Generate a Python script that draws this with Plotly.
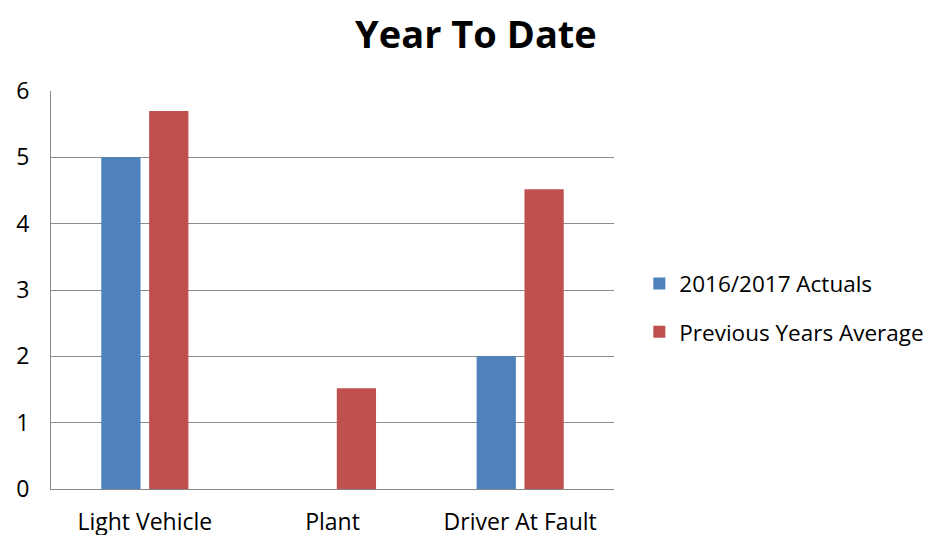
import plotly.graph_objects as go

categories = ["Light Vehicle", "Plant", "Driver At Fault"]
actuals = [5, 0, 2]
prev_avg = [5.7, 1.52, 4.52]
series_names = ["2016/2017 Actuals", "Previous Years Average"]
y_ticks = [0, 1, 2, 3, 4, 5, 6]

font_family = "Open Sans, Liberation Sans, Arial, sans-serif"

fig = go.Figure()
fig.add_trace(go.Bar(x=categories, y=actuals, name=series_names[0],
                     legendgroup="a",
                     marker=dict(color="#4F81BD", line=dict(width=0))))
fig.add_trace(go.Bar(x=categories, y=prev_avg, name=series_names[1],
                     legendgroup="b",
                     marker=dict(color="#C0504D", line=dict(width=0))))

fig.update_layout(
    width=935, height=535,
    margin=dict(l=43, r=329, t=83, b=54, autoexpand=False),
    paper_bgcolor="white", plot_bgcolor="white",
    barmode="group", bargap=0.49, bargroupgap=0.18,
    font=dict(family=font_family, size=23, color="#000000"),
    title=dict(text="<b>Year To Date</b>", x=0.5005, xanchor="center",
               y=0.95, yanchor="middle",
               font=dict(family=font_family, size=38, color="#000000")),
    legend=dict(x=1.045, xanchor="left", y=0.455, yanchor="middle",
                font=dict(size=22.5), itemsizing="constant",
                tracegroupgap=16, itemwidth=30),
    showlegend=True,
)
fig.update_xaxes(showline=True, linecolor="#888888", linewidth=1,
                 showgrid=False, ticks="", tickfont=dict(size=23),
                 range=[-0.5, 2.5], automargin=False, ticklabelstandoff=12)
fig.update_yaxes(range=[0, 6], tickvals=y_ticks, showgrid=True,
                 gridcolor="#8c8c8c", gridwidth=1, showline=True,
                 linecolor="#888888", linewidth=1, zeroline=False,
                 ticks="", tickfont=dict(size=23), ticklabelstandoff=16,
                 automargin=False)

fig.write_html("out.html")
